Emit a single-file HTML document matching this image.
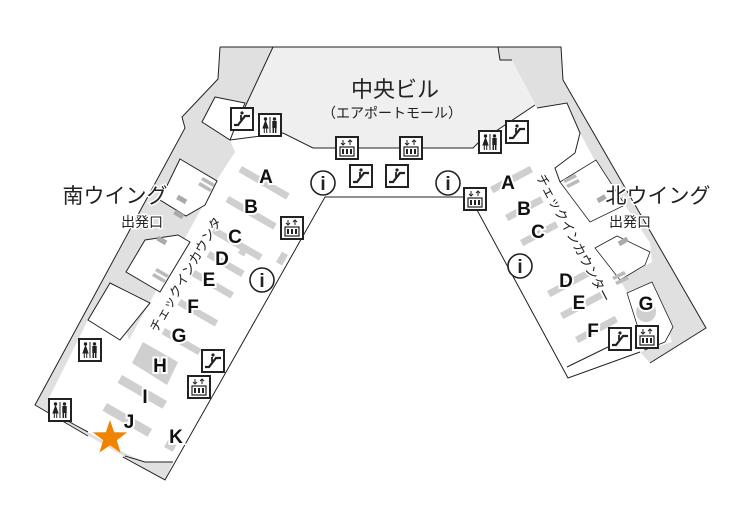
<!DOCTYPE html>
<html><head><meta charset="utf-8">
<style>
html,body{margin:0;padding:0;background:#fff;}
svg{display:block;}
text{font-family:"Liberation Sans","Noto Sans CJK JP",sans-serif;}
.lbl{font-weight:bold;font-size:19px;fill:#111;stroke:#fff;stroke-width:4px;paint-order:stroke;}
.ctr{fill:#cfcfcf;}
.ln{fill:none;stroke:#222;stroke-width:1;}
</style></head><body>
<svg width="750" height="525" viewBox="0 0 750 525" xmlns="http://www.w3.org/2000/svg">
<defs>
  <g id="esc">
    <rect x="1" y="1" width="22" height="22" fill="#fff" stroke="#222" stroke-width="2"/>
    <path d="M4 18 L8 18 L15 9 L20 9" fill="none" stroke="#222" stroke-width="2.2"/>
    <circle cx="12" cy="6" r="1.6" fill="#222"/>
    <path d="M11 8 L11 13" stroke="#222" stroke-width="1.8"/>
  </g>
  <g id="elv">
    <rect x="1" y="1" width="22" height="22" fill="#fff" stroke="#222" stroke-width="2"/>
    <rect x="5" y="11" width="14" height="9" fill="none" stroke="#222" stroke-width="1.2"/>
    <path d="M8 13 v5 M12 13 v5 M16 13 v5" stroke="#222" stroke-width="2"/>
    <path d="M8 4 v5 M6 7 l2 2 l2 -2 M15 9 v-5 M13 6 l2 -2 l2 2" fill="none" stroke="#222" stroke-width="1"/>
  </g>
  <g id="wc">
    <rect x="1" y="1" width="22" height="22" fill="#fff" stroke="#222" stroke-width="2"/>
    <circle cx="7.5" cy="6" r="1.7" fill="#222"/>
    <path d="M7.5 8 L5 15 L10 15 Z M6.3 15 v5 M8.7 15 v5" fill="#222" stroke="#222" stroke-width="1"/>
    <path d="M12 4 V20" stroke="#222" stroke-width="1"/>
    <circle cx="16.5" cy="6" r="1.7" fill="#222"/>
    <rect x="14.3" y="8" width="4.4" height="7" fill="#222"/>
    <path d="M15.3 15 v5 M17.7 15 v5" stroke="#222" stroke-width="1.5"/>
  </g>
  <g id="info">
    <circle cx="0" cy="0" r="12" fill="#fff" stroke="#222" stroke-width="1.6"/>
    <text x="0" y="7" text-anchor="middle" font-family="Liberation Serif,serif" font-weight="bold" font-size="19" fill="#222">i</text>
  </g>
</defs>

<!-- central mall light -->
<polygon points="273,47 498,47 500,60 512,60 535,105 478,143 473,148 313,148 283,133 245,107" fill="#efefef"/>
<!-- left gray -->
<polygon points="220,47 273,47 245,107 245,103 215,97 202,122 230,140 235,152 217,180 129,340 110,283 88,320 48,400 35,405 185,128 182,117 218,79" fill="#e0e0e0"/>
<polygon points="215,97 245,103 230,140 202,122" fill="#fff" stroke="#222" stroke-width="1"/>
<!-- right gray -->
<polygon points="498,47 561,47 563,80 706,328 650,363 640,352 672,342 652,282 627,292 620,280 652,262 650,243 625,205 600,170 580,133 567,103 537,108 512,60 500,60" fill="#e0e0e0"/>
<!-- left rooms in band -->
<polygon points="180,159 217,181 205,205 186,216 160,200" fill="#fff" stroke="#222" stroke-width="1"/>
<polygon points="178,235 190,242 160,292 126,272 145,240" fill="#fff" stroke="#222" stroke-width="1"/>
<polygon points="110,283 150,303 120,340 88,320" fill="#fff" stroke="#222" stroke-width="1"/>
<polygon points="78,342 48,400 60,407 98,357" fill="#fff"/>
<!-- lower gray -->
<polygon points="48,400 35,405 165,480 173,462 145,462 125,453 75,425 60,410" fill="#e0e0e0"/>
<!-- right rooms in band -->
<polygon points="560,182 596,160 625,205 590,222" fill="#fff" stroke="#222" stroke-width="0.8"/>
<polygon points="595,248 617,236 650,252 645,265 620,280" fill="#fff" stroke="#222" stroke-width="0.8"/>
<polygon points="627,293 652,282 673,327 665,342 645,350" fill="#fff" stroke="#222" stroke-width="0.8"/>

<!-- outlines -->
<polyline class="ln" stroke-width="1.6" points="273,47 245,107"/>
<polyline class="ln" stroke-width="1.6" points="230,140 283,133 313,148 473,148 478,143 535,105"/>
<polyline class="ln" stroke-width="1.6" points="512,60 500,60 498,47"/>
<polyline class="ln" stroke-width="2" points="220,47 561,47 563,80 706,328 650,363"/>
<polyline class="ln" stroke-width="2" points="220,47 218,79 182,117 185,128 35,405 88,436"/>
<polyline class="ln" stroke-width="2" points="123,457 165,480 325,197 470,197 568,378 640,352"/>
<polyline class="ln" stroke-width="1" points="48,410 75,425 88,432"/>
<polyline class="ln" stroke-width="1" points="125,456 145,462 173,462"/>
<polyline class="ln" stroke-width="1" points="537,108 567,103 580,133 575,153 555,168 560,182"/>
<polyline class="ln" stroke-width="1" points="567,367 608,347"/>

<!-- gate bars -->
<g fill="#bbb">
<polygon points="203,177 215,184 213,187 201,180"/><polygon points="200,182 212,189 210,192 198,185"/>
<polygon points="157,268 169,275 167,278 155,271"/><polygon points="154,273 166,280 164,283 152,276"/>
<polygon points="563,180 575,174 577,177 565,183"/><polygon points="566,185 578,179 580,182 568,188"/>
<polygon points="612,277 624,271 626,274 614,280"/><polygon points="615,282 627,276 629,279 617,285"/>
</g>
<g fill="#aaa">
<rect x="177" y="197" width="10" height="5" transform="rotate(30 182 199)"/>
<rect x="174" y="212" width="10" height="5" transform="rotate(30 179 214)"/>
<rect x="157" y="238" width="10" height="5" transform="rotate(30 162 240)"/>
<rect x="597" y="197" width="9" height="5" transform="rotate(-30 600 199)"/>
<rect x="618" y="239" width="10" height="5" transform="rotate(-30 623 241)"/>
</g>

<!-- left counters -->
<g class="ctr">
<rect x="242" y="166" width="55" height="7" transform="rotate(30 242 166)"/>
<rect x="229" y="196" width="55" height="7" transform="rotate(30 229 196)"/>
<rect x="215" y="227" width="55" height="7" transform="rotate(30 215 227)"/>
<rect x="210" y="251" width="40" height="7" transform="rotate(30 210 251)"/>
<rect x="195" y="270" width="45" height="7" transform="rotate(30 195 270)"/>
<rect x="181" y="299" width="43" height="7" transform="rotate(30 181 299)"/>
<rect x="165" y="328" width="42" height="7" transform="rotate(30 165 328)"/>
<rect x="122" y="375" width="52" height="9" transform="rotate(30 122 375)"/>
<rect x="107" y="403" width="52" height="9" transform="rotate(30 107 403)"/>
<rect x="168" y="440" width="10" height="8" transform="rotate(30 168 440)"/>
<rect x="238" y="253" width="10" height="7" transform="rotate(-60 238 253)"/>
<rect x="276" y="262" width="12" height="7" transform="rotate(-60 276 262)"/>
<polygon points="143,342 178,362 167,385 132,363"/>
</g>
<!-- right counters -->
<g class="ctr">
<rect x="490" y="187" width="45" height="7" transform="rotate(-28 490 187)"/>
<rect x="505" y="215" width="40" height="7" transform="rotate(-28 505 215)"/>
<rect x="520" y="240" width="40" height="7" transform="rotate(-28 520 240)"/>
<rect x="547" y="291" width="45" height="7" transform="rotate(-28 547 291)"/>
<rect x="560" y="313" width="45" height="7" transform="rotate(-28 560 313)"/>
<rect x="575" y="337" width="45" height="7" transform="rotate(-28 575 337)"/>
<circle cx="646" cy="312" r="10"/>
</g>

<!-- labels -->
<text class="lbl" x="266" y="183" text-anchor="middle">A</text>
<text class="lbl" x="251" y="213" text-anchor="middle">B</text>
<text class="lbl" x="235" y="243" text-anchor="middle">C</text>
<text class="lbl" x="222" y="265" text-anchor="middle">D</text>
<text class="lbl" x="209" y="286" text-anchor="middle">E</text>
<text class="lbl" x="193" y="313" text-anchor="middle">F</text>
<text class="lbl" x="179" y="342" text-anchor="middle">G</text>
<text class="lbl" x="160" y="372" text-anchor="middle">H</text>
<text class="lbl" x="145" y="403" text-anchor="middle">I</text>
<text class="lbl" x="129" y="428" text-anchor="middle">J</text>
<text class="lbl" x="176" y="443" text-anchor="middle">K</text>
<text class="lbl" x="508" y="189" text-anchor="middle">A</text>
<text class="lbl" x="524" y="215" text-anchor="middle">B</text>
<text class="lbl" x="538" y="238" text-anchor="middle">C</text>
<text class="lbl" x="566" y="287" text-anchor="middle">D</text>
<text class="lbl" x="579" y="309" text-anchor="middle">E</text>
<text class="lbl" x="593" y="337" text-anchor="middle">F</text>
<text class="lbl" x="646" y="310" text-anchor="middle">G</text>

<text x="395" y="97" text-anchor="middle" font-size="22" fill="#222">中央ビル</text>
<text x="392" y="118" text-anchor="middle" font-size="14" fill="#222">（エアポートモール）</text>
<text x="115" y="203" text-anchor="middle" font-size="21" fill="#222" stroke="#fff" stroke-width="3" paint-order="stroke">南ウイング</text>
<text x="142" y="227" text-anchor="middle" font-size="14" fill="#222" stroke="#fff" stroke-width="3" paint-order="stroke">出発口</text>
<text x="658" y="203" text-anchor="middle" font-size="21" fill="#222" stroke="#fff" stroke-width="3" paint-order="stroke">北ウイング</text>
<text x="630" y="227" text-anchor="middle" font-size="14" fill="#222" stroke="#fff" stroke-width="3" paint-order="stroke">出発口</text>
<text transform="translate(157,333) rotate(-60)" font-size="13" fill="#222" stroke="#fff" stroke-width="3" paint-order="stroke">チェックインカウンタ</text>
<text transform="translate(536,177) rotate(62)" font-size="13" fill="#222" stroke="#fff" stroke-width="3" paint-order="stroke">チェックインカウンター</text>

<!-- icons -->
<use href="#esc" x="230" y="107"/>
<use href="#wc" x="258" y="113"/>
<use href="#elv" x="335" y="136"/>
<use href="#esc" x="349" y="164"/>
<use href="#elv" x="399" y="136"/>
<use href="#esc" x="385" y="164"/>
<use href="#wc" x="478" y="130"/>
<use href="#esc" x="505" y="120"/>
<use href="#elv" x="463" y="187"/>
<use href="#elv" x="280" y="216"/>
<use href="#esc" x="201" y="349"/>
<use href="#elv" x="187" y="375"/>
<use href="#wc" x="78" y="338"/>
<use href="#wc" x="48" y="398"/>
<use href="#esc" x="608" y="327"/>
<use href="#elv" x="635" y="325"/>
<use href="#info" x="323" y="183"/>
<use href="#info" x="448" y="183"/>
<use href="#info" x="262" y="280"/>
<use href="#info" x="520" y="266"/>

<!-- star -->
<polygon fill="#f08300" transform="translate(110,438)" points="0,-18 4.2,-5.8 17.1,-5.6 6.8,2.2 10.6,14.6 0,7.2 -10.6,14.6 -6.8,2.2 -17.1,-5.6 -4.2,-5.8"/>
</svg>
</body></html>
